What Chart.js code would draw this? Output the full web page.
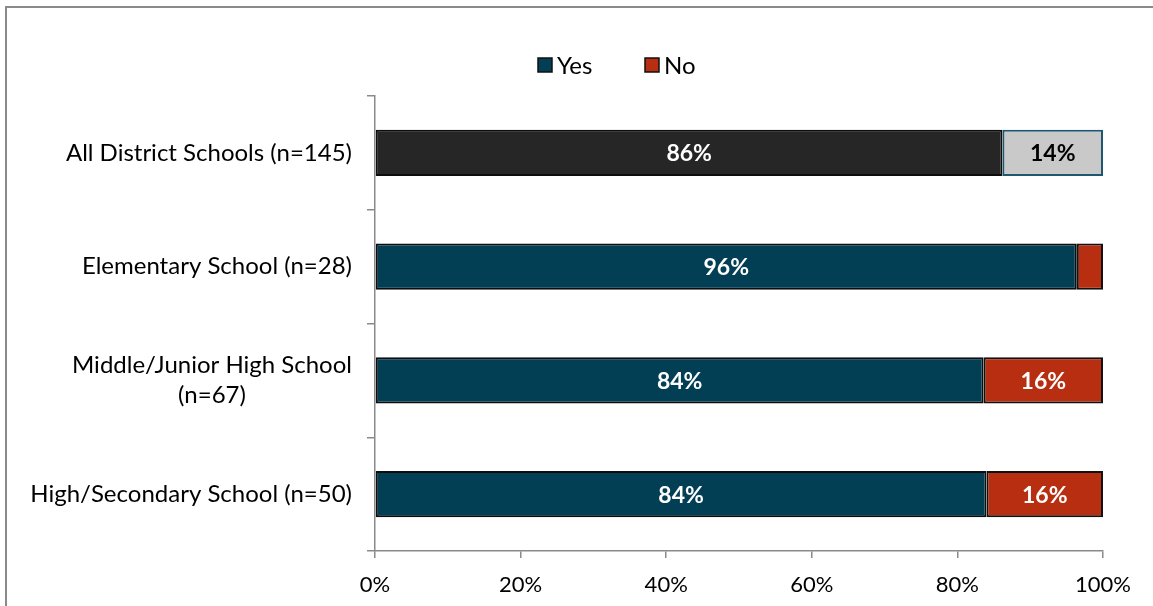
<!DOCTYPE html>
<html>
<head>
<meta charset="utf-8">
<script src="https://cdn.jsdelivr.net/npm/chart.js@4.4.1/dist/chart.umd.min.js"></script>
<style>
  html, body { margin: 0; padding: 0; background: #fff; }
  #wrap { position: relative; width: 1153px; height: 606px; }
</style>
</head>
<body>
<div id="wrap"><canvas id="chartSchools" width="1153" height="606"></canvas></div>
<script>
// survey answers by school level, percent of respondents
const categories = [
  ["All District Schools (n=145)"],
  ["Elementary School (n=28)"],
  ["Middle/Junior High School", "(n=67)"],
  ["High/Secondary School (n=50)"],
];
const yesValues = [86.2, 96.4, 83.6, 84.0];
const noValues = [13.8, 3.6, 16.4, 16.0];
const xTicks = [0, 20, 40, 60, 80, 100];

const FONT = "Lato, 'Open Sans', sans-serif";
const el = (id) => document.getElementById(id);

// first row (district total) gets its own grey scheme
const yesFill = ["#262626", "#023f55", "#023f55", "#023f55"];
const noFill = ["#c9c9c9", "#b72f10", "#b72f10", "#b72f10"];
const noBorder = ["#1f5670", "#111", "#111", "#111"];
const yesText = ["#fff", "#fff", "#fff", "#fff"];
const noText = ["#000", "#fff", "#fff", "#fff"];

// frame, category labels, legend and value labels
const decorations = {
  id: "decorations",
  beforeDraw(chart) {
    const ctx = chart.ctx;
    ctx.save();
    ctx.strokeStyle = "#8a8a8a";
    ctx.lineWidth = 2;
    ctx.beginPath();
    ctx.moveTo(6, chart.height);
    ctx.lineTo(6, 7);
    ctx.lineTo(chart.width, 7);
    ctx.stroke();
    ctx.restore();
  },
  afterDraw(chart) {
    const ctx = chart.ctx;
    const yScale = chart.scales.y;
    ctx.save();

    // category labels, wrapped ones centred under each other
    ctx.font = "24px " + FONT;
    ctx.fillStyle = "#000";
    ctx.textBaseline = "middle";
    const right = 352;
    categories.forEach((lines, i) => {
      const cy = yScale.getPixelForValue(i);
      const lh = 30;
      const widest = Math.max(...lines.map((l) => ctx.measureText(l).width));
      const cx = right - widest / 2;
      lines.forEach((l, k) => {
        const y = cy + (k - (lines.length - 1) / 2) * lh;
        ctx.textAlign = lines.length > 1 ? "center" : "right";
        ctx.fillText(l, lines.length > 1 ? cx : right, y);
      });
    });

    // legend
    const items = [
      { text: "Yes", fill: "#023f55", x: 538 },
      { text: "No", fill: "#b72f10", x: 645 },
    ];
    ctx.textAlign = "left";
    items.forEach((it) => {
      ctx.fillStyle = it.fill;
      ctx.fillRect(it.x, 58, 14, 14);
      ctx.strokeStyle = "#111";
      ctx.lineWidth = 1.5;
      ctx.strokeRect(it.x, 58, 14, 14);
      ctx.fillStyle = "#000";
      ctx.fillText(it.text, it.x + 19, 66);
    });

    // values inside the segments
    ctx.font = "bold 23px " + FONT;
    ctx.textAlign = "center";
    chart.data.datasets.forEach((ds, di) => {
      const meta = chart.getDatasetMeta(di);
      meta.data.forEach((bar, i) => {
        const v = ds.data[i];
        if (v < 5) return;
        ctx.fillStyle = ds.labelColors[i];
        ctx.fillText(Math.round(v) + "%", (bar.x + bar.base) / 2, bar.y + 1);
      });
    });
    ctx.restore();
  },
};

function renderChart() {
  const ctx = el("chartSchools").getContext("2d");
  new Chart(ctx, {
    type: "bar",
    data: {
      labels: categories,
      datasets: [
        {
          label: "Yes",
          data: yesValues,
          backgroundColor: yesFill,
          borderColor: "#0d0d0d",
          borderWidth: 2,
          borderSkipped: false,
          labelColors: yesText,
        },
        {
          label: "No",
          data: noValues,
          backgroundColor: noFill,
          borderColor: noBorder,
          borderWidth: 2,
          borderSkipped: false,
          labelColors: noText,
        },
      ],
    },
    options: {
      indexAxis: "y",
      responsive: false,
      animation: false,
      layout: { padding: { top: 96, right: 50, left: 0, bottom: 0 } },
      categoryPercentage: 1,
      barPercentage: 0.405,
      scales: {
        x: {
          stacked: true,
          min: 0,
          max: 100,
          afterBuildTicks: (s) => { s.ticks = xTicks.map((v) => ({ value: v })); },
          afterFit: (s) => { s.height = 55; },
          ticks: {
            color: "#000",
            font: { family: FONT, size: 22 },
            padding: 14,
            callback: (v) => v + "%",
          },
          grid: { drawOnChartArea: false, color: "#8a8a8a", tickLength: 7, lineWidth: 1.5 },
          border: { color: "#8a8a8a", width: 1.5 },
        },
        y: {
          stacked: true,
          afterFit: (s) => { s.width = 375; },
          ticks: { display: false },
          grid: { drawOnChartArea: false, offset: true, color: "#8a8a8a", tickLength: 8, lineWidth: 1.5 },
          border: { color: "#8a8a8a", width: 1.5 },
        },
      },
      plugins: { legend: { display: false }, tooltip: { enabled: false } },
    },
    plugins: [decorations],
  });
}

document.addEventListener("DOMContentLoaded", renderChart);
</script>
</body>
</html>
